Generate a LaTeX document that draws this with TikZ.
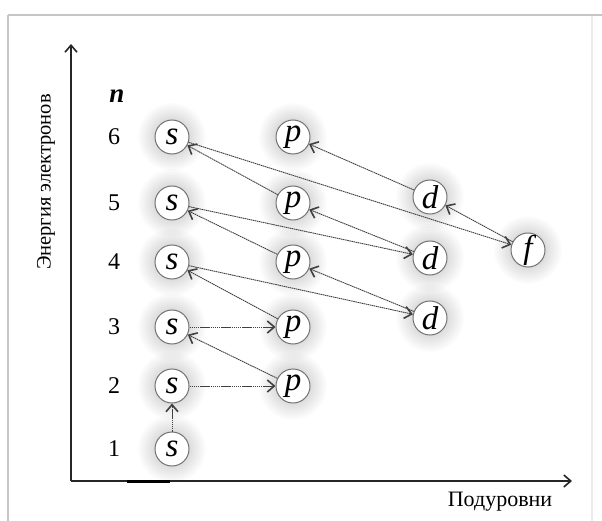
\documentclass[tikz,border=0pt]{standalone}
\usepackage{fontspec}
\setmainfont{Liberation Serif}
\usetikzlibrary{arrows.meta,backgrounds}
\begin{document}
\begin{tikzpicture}[x=1pt,y=-1pt,
  orb/.style={circle,draw=black!55,line width=1pt,fill=white,minimum size=34pt,inner sep=0pt,
    font=\fontsize{33}{33}\selectfont\itshape},
  halo/.style={fill=black,opacity=0.013},
  lvl/.style={font=\fontsize{24}{24}\selectfont},
  conn/.style={draw=black!75,line width=0.9pt,dash pattern=on 1.5pt off 0.6pt,
    -{Straight Barb[length=7pt,width=12pt,line width=1.6pt]}},
  axis/.style={draw=black!85,line width=1.1pt,-{Straight Barb[length=7pt,width=12pt,line width=1.6pt]}},
  frameline/.style={draw=gray!45,line width=2pt}
]
\useasboundingbox (0,0) rectangle (602,521);
% screenshot frame
\draw[frameline] (8,15) -- (602,15);
\draw[frameline] (8,15) -- (8,521);
\draw[draw=gray!15,line width=1.5pt] (592,16) -- (592,521);

% axes
\coordinate (O) at (71,481);
\coordinate (Ytip) at (71,44);
\coordinate (Xtip) at (572,481);
\draw[axis] (O) -- (Ytip);
\draw[axis] (O) -- (Xtip);
\draw[black,line width=3pt] (127,481) -- (170,481);

\node[font=\fontsize{20.5}{20.5}\selectfont,rotate=90] (ylab) at (46,182) {Энергия электронов};
\node[font=\fontsize{22}{22}\selectfont] (xlab) at (500,502) {Подуровни};
\node[font=\fontsize{27}{27}\selectfont\itshape\bfseries] (n) at (117,96) {n};

% level numbers
\node[lvl] (l6) at (114,137) {6};
\node[lvl] (l5) at (114,203) {5};
\node[lvl] (l4) at (114,262) {4};
\node[lvl] (l3) at (114,327) {3};
\node[lvl] (l2) at (114,386) {2};
\node[lvl] (l1) at (114,449) {1};

% orbitals
\node[orb] (s6) at (172,137) {s};
\node[orb] (s5) at (172,203) {s};
\node[orb] (s4) at (172,262) {s};
\node[orb] (s3) at (172,327) {s};
\node[orb] (s2) at (172,386) {s};
\node[orb] (s1) at (172,449) {s};
\node[orb] (p6) at (293,137) {p};
\node[orb] (p5) at (293,203) {p};
\node[orb] (p4) at (293,262) {p};
\node[orb] (p3) at (293,327) {p};
\node[orb] (p2) at (293,386) {p};
\node[orb] (d5) at (430,197) {d};
\node[orb] (d4) at (430,258) {d};
\node[orb] (d3) at (430,318) {d};
\node[orb] (f4) at (528,250) {f};

% soft halos
\begin{scope}[on background layer]
\fill[white] (0,0) rectangle (602,521);
\foreach \nd in {s1,s2,s3,s4,s5,s6,p2,p3,p4,p5,p6,d3,d4,d5,f4}
  \foreach \r in {19,20.5,...,34}
    \fill[halo] (\nd.center) circle (\r pt);
\end{scope}

% filling order
\draw[conn] (s1) -- (s2);
\draw[conn] (s2) -- (p2);
\draw[conn] (p2) -- (s3);
\draw[conn] (s3) -- (p3);
\draw[conn] (p3) -- (s4);
\draw[conn] (s4) -- (d3);
\draw[conn] (d3) -- (p4);
\draw[conn] (p4) -- (s5);
\draw[conn] (s5) -- (d4);
\draw[conn] (d4) -- (p5);
\draw[conn] (p5) -- (s6);
\draw[conn] (s6) -- (f4);
\draw[conn] (f4) -- (d5);
\draw[conn] (d5) -- (p6);
\end{tikzpicture}
\end{document}
